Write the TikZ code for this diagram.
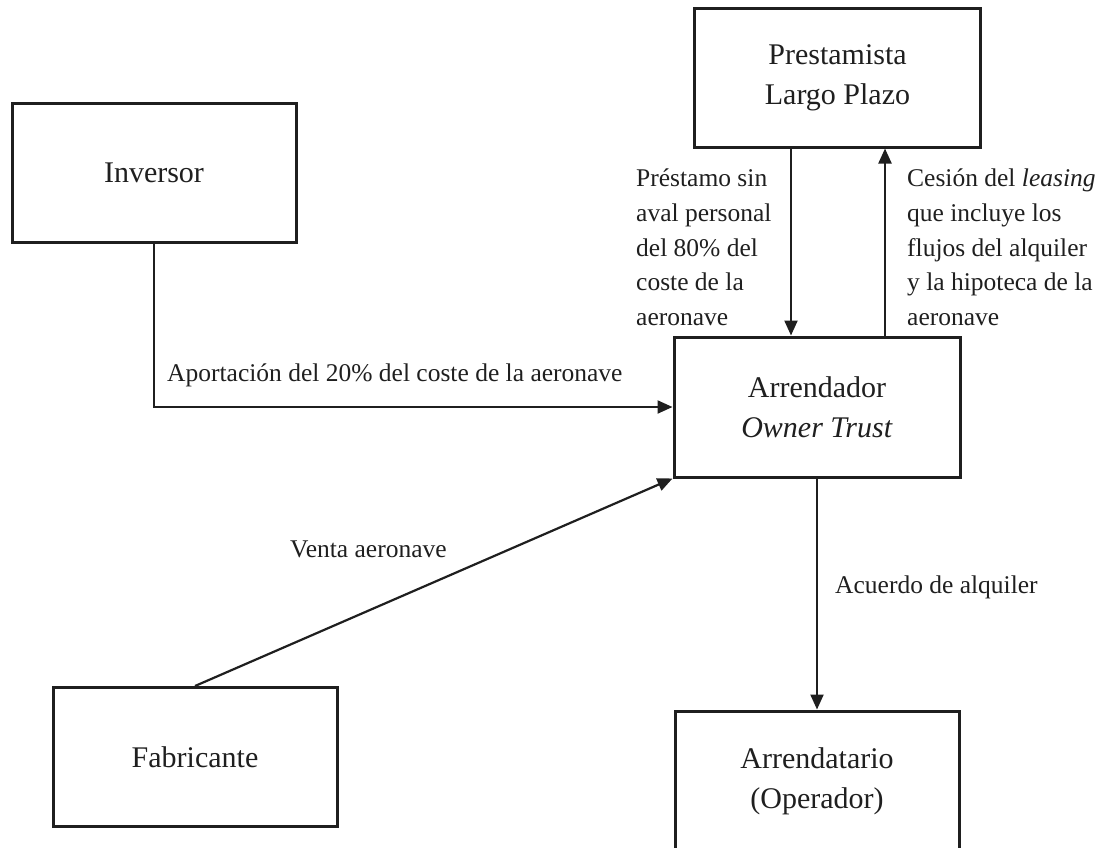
\documentclass[tikz,border=0pt]{standalone}
\usepackage{fontspec}
\setmainfont{Liberation Serif}
\usetikzlibrary{arrows.meta}
\begin{document}
\begin{tikzpicture}[x=1pt,y=-1pt,
  box/.style={draw=black!88, line width=3pt, minimum width=284pt, minimum height=139pt,
    align=center, font=\fontsize{30}{40}\selectfont, inner sep=0pt, text=black!88},
  conn/.style={draw=black!88, line width=2.2pt, -{Triangle[length=15pt,width=13pt]}},
  lbl/.style={font=\fontsize{25.5}{34.6}\selectfont, align=left, inner sep=0pt, text=black!88}]
\useasboundingbox (0,0) rectangle (1110,847);
\node[box, minimum width=286pt] (prest) at (837.5,77.5) {Prestamista\\Largo Plazo};
\node[box] (inv) at (154,173) {Inversor};
\node[box, minimum width=286pt, minimum height=140pt] (arr) at (817,407) {Arrendador\\\textit{Owner Trust}};
\node[box] (fab) at (195,757) {Fabricante};
\node[box, minimum height=140pt] (arrt) at (817,781) {Arrendatario\\(Operador)};

\coordinate (dl) at (791,0);
\coordinate (ul) at (885,0);
\draw[conn] (prest.south -| dl) -- (arr.north -| dl);
\draw[conn] (arr.north -| ul) -- (prest.south -| ul);
\draw[conn] (inv.south) |- (arr.west);
\draw[conn] (fab.north) -- (arr.south west);
\draw[conn] (arr.south) -- (arrt.north);

\node[lbl, anchor=north west] (lp) at (636,169) {Préstamo sin\\aval personal\\del 80\% del\\coste de la\\aeronave};
\node[lbl, anchor=north west] (lc) at (907,169) {Cesión del \textit{leasing}\\que incluye los\\flujos del alquiler\\y la hipoteca de la\\aeronave};
\node[lbl, anchor=base west] (la) at (167,381) {Aportación del 20\% del coste de la aeronave};
\node[lbl, anchor=base west] (lv) at (290,557) {Venta aeronave};
\node[lbl, anchor=base west] (lq) at (835,593) {Acuerdo de alquiler};
\end{tikzpicture}
\end{document}
